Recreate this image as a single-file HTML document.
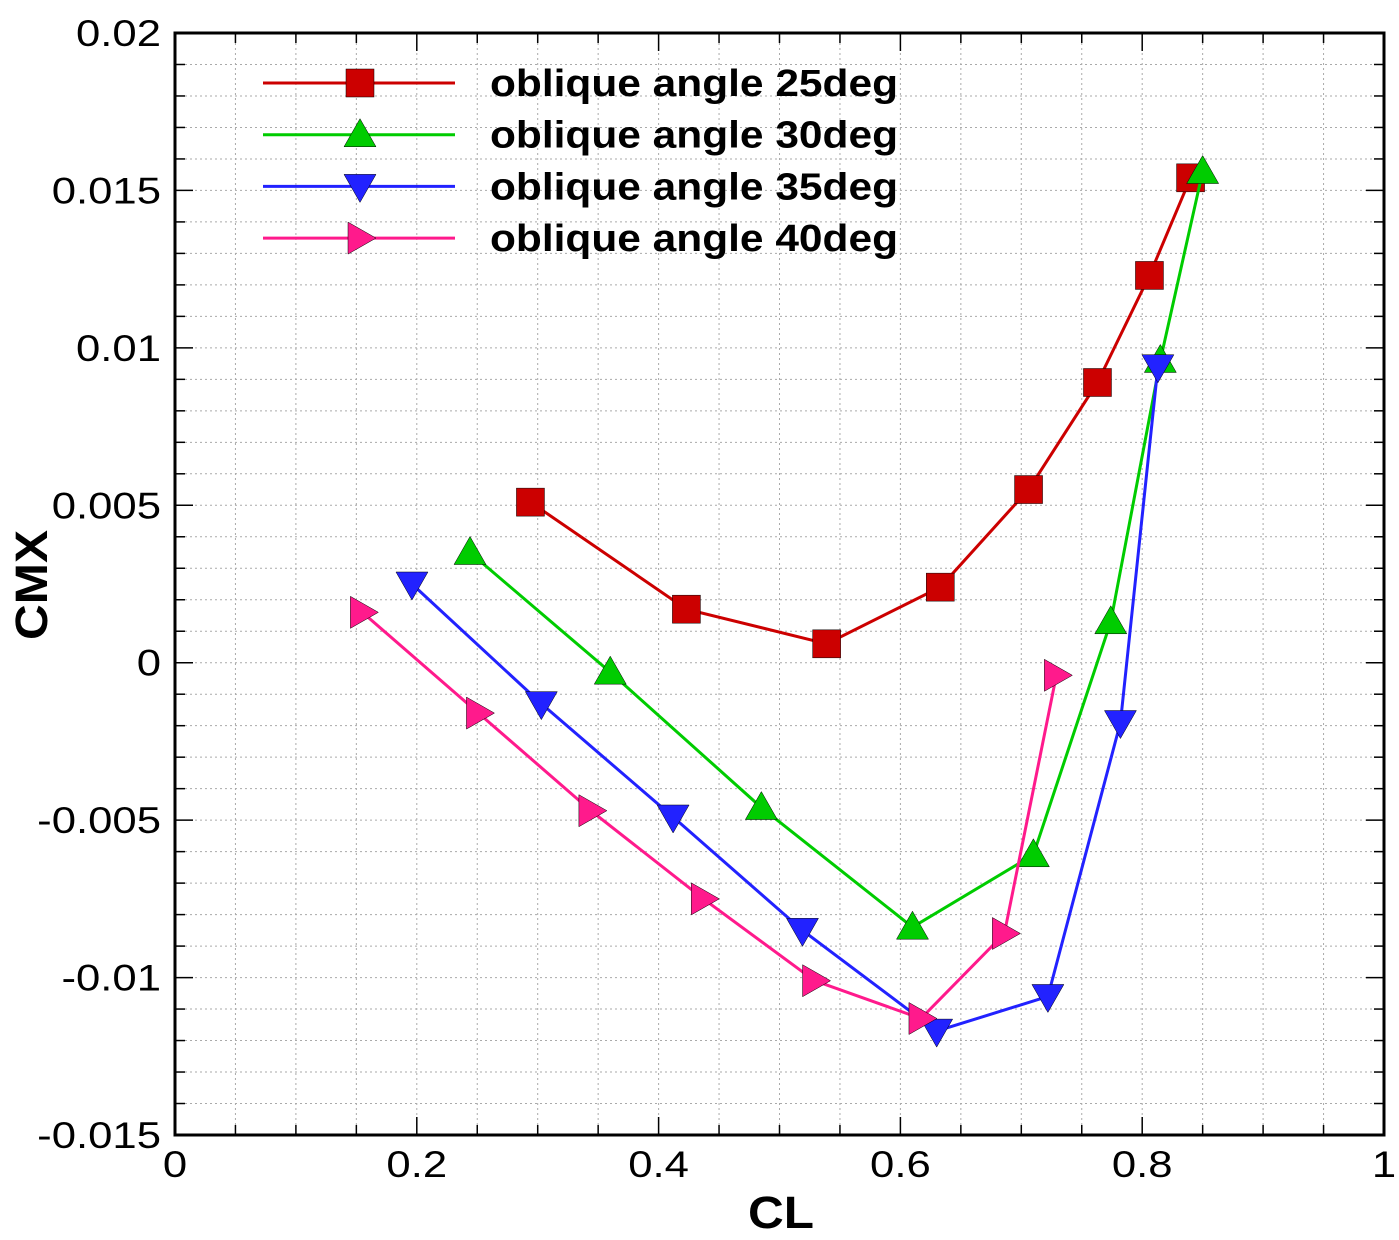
<!DOCTYPE html>
<html><head><meta charset="utf-8"><style>
body{margin:0;background:#fff}
svg{display:block;font-family:"Liberation Sans",Arial,sans-serif}
</style></head><body>
<svg id="chart" width="1399" height="1240" viewBox="0 0 1399 1240" xmlns="http://www.w3.org/2000/svg">
<g id="grid"></g>
<g id="axes"></g>
<g id="series"></g>
<g id="legend"></g>
<text id="xt" x="781" y="1228" font-size="45" font-weight="bold" text-anchor="middle" textLength="66" lengthAdjust="spacingAndGlyphs">CL</text>
<text id="yt" transform="translate(47,585) rotate(-90)" font-size="45" font-weight="bold" text-anchor="middle" textLength="110" lengthAdjust="spacingAndGlyphs">CMX</text>
</svg>
<script>
const seriesNames=["oblique angle 25deg","oblique angle 30deg","oblique angle 35deg","oblique angle 40deg"];
const colors=["#cc0000","#00cc00","#2222ff","#ff1a8c"];
const markers=["square","up","down","right"];
const x25=[0.294,0.423,0.539,0.633,0.706,0.763,0.806,0.840];
const y25=[0.0051,0.0017,0.0006,0.0024,0.0055,0.0089,0.0123,0.0154];
const x30=[0.244,0.360,0.485,0.610,0.710,0.774,0.815,0.850];
const y30=[0.0035,-0.0003,-0.0046,-0.0084,-0.0061,0.0013,0.0096,0.0156];
const x35=[0.196,0.303,0.412,0.519,0.630,0.722,0.782,0.813];
const y35=[0.0025,-0.0013,-0.0049,-0.0085,-0.0117,-0.0106,-0.0019,0.0094];
const x40=[0.155,0.251,0.344,0.437,0.529,0.617,0.686,0.729];
const y40=[0.0016,-0.0016,-0.0047,-0.0075,-0.0101,-0.0113,-0.0086,-0.0004];
const xTicks=[0,0.2,0.4,0.6,0.8,1];
const xTickLabels=["0","0.2","0.4","0.6","0.8","1"];
const yTicks=[-0.015,-0.01,-0.005,0,0.005,0.01,0.015,0.02];
const yTickLabels=["-0.015","-0.01","-0.005","0","0.005","0.01","0.015","0.02"];
const L=175,R=1384,T=33,B=1135;
const sx=v=>L+(v-0)/(1-0)*(R-L);
const sy=v=>B-(v+0.015)/0.035*(B-T);
const NS="http://www.w3.org/2000/svg";
function mk(tag,attrs,parent){const e=document.createElementNS(NS,tag);for(const k in attrs)e.setAttribute(k,attrs[k]);parent.appendChild(e);return e;}
function widen(t,f){const w=t.getComputedTextLength();t.setAttribute('textLength',w*f);t.setAttribute('lengthAdjust','spacingAndGlyphs');}
const grid=document.getElementById('grid'),axes=document.getElementById('axes'),ser=document.getElementById('series'),leg=document.getElementById('legend');
for(let i=1;i<20;i++){const v=i*0.05;const l=mk('line',{x1:sx(v),x2:sx(v),y1:T,y2:B,stroke:'#aaa','stroke-width':1,'stroke-dasharray':'2,3'},grid);


const major=i%4===0;const len=major?18:10;
mk('line',{x1:sx(v),x2:sx(v),y1:B,y2:B-len,stroke:'#000','stroke-width':1.5},axes);
mk('line',{x1:sx(v),x2:sx(v),y1:T,y2:T+len,stroke:'#000','stroke-width':1.5},axes);}
for(let i=1;i<35;i++){const v=-0.015+i*0.001;const l=mk('line',{x1:L,x2:R,y1:sy(v),y2:sy(v),stroke:'#aaa','stroke-width':1,'stroke-dasharray':'2,3'},grid);


const major=i%5===0;const len=major?18:10;
mk('line',{x1:L,x2:L+len,y1:sy(v),y2:sy(v),stroke:'#000','stroke-width':1.5},axes);
mk('line',{x1:R,x2:R-len,y1:sy(v),y2:sy(v),stroke:'#000','stroke-width':1.5},axes);}
const frame=mk('rect',{x:L,y:T,width:R-L,height:B-T,fill:'none',stroke:'#000','stroke-width':3},axes);


xTicks.forEach((v,i)=>{const t=mk('text',{x:sx(v),y:B+42,'font-size':37,'text-anchor':'middle'},axes);t.textContent=xTickLabels[i];


widen(t,1.18);});
yTicks.forEach((v,i)=>{const t=mk('text',{x:L-14,y:sy(v)+13,'font-size':37,'text-anchor':'end'},axes);t.textContent=yTickLabels[i];


widen(t,1.18);});
function marker(type,cx,cy,c,parent){const s=14;let p;
if(type==='square')p=mk('rect',{x:cx-s,y:cy-s,width:2*s,height:2*s,fill:c,stroke:'#000','stroke-width':0.5},parent);
else{let pts;if(type==='up')pts=[[cx,cy-s-2],[cx-s-2,cy+s-2],[cx+s+2,cy+s-2]];
else if(type==='down')pts=[[cx,cy+s+2],[cx-s-2,cy-s+2],[cx+s+2,cy-s+2]];
else pts=[[cx+s+2,cy],[cx-s+2,cy-s-2],[cx-s+2,cy+s+2]];
p=mk('polygon',{points:pts.map(q=>q.join(',')).join(' '),fill:c,stroke:'#000','stroke-width':0.5},parent);}
return p;}
const xs=[x25,x30,x35,x40],ys=[y25,y30,y35,y40];
xs.forEach((xa,si)=>{const g=mk('g',{},ser);


mk('polyline',{points:xa.map((v,i)=>sx(v)+','+sy(ys[si][i])).join(' '),fill:'none',stroke:colors[si],'stroke-width':3},g);
xa.forEach((v,i)=>{const m=marker(markers[si],sx(v),sy(ys[si][i]),colors[si],g);

});});
seriesNames.forEach((n,i)=>{const y=83+i*51.7;const g=mk('g',{},leg);


mk('line',{x1:263,x2:455,y1:y,y2:y,stroke:colors[i],'stroke-width':3},g);
marker(markers[i],360,y,colors[i],g);
const t=mk('text',{x:490,y:y+13,'font-size':38,'font-weight':'bold',textLength:408,lengthAdjust:'spacingAndGlyphs'},g);t.textContent=n;});
</script>
</body></html>
